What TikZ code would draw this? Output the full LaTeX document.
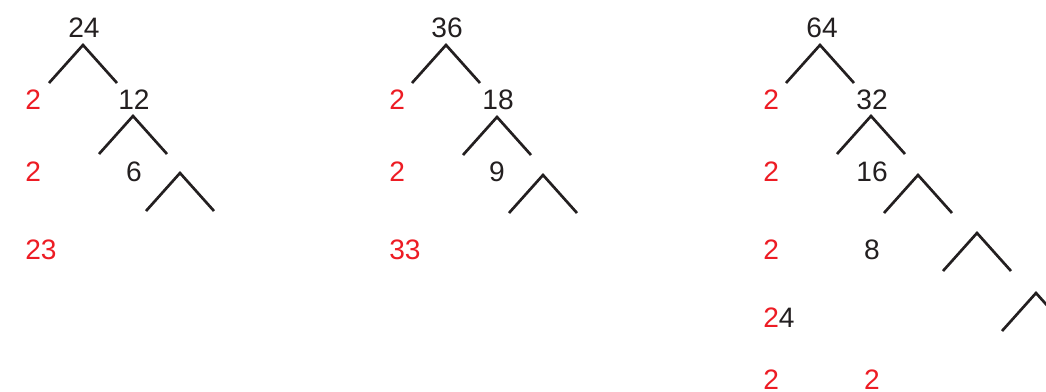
\documentclass[tikz,border=0pt]{standalone}
\usepackage{fontspec}
\setmainfont{Liberation Sans}
\definecolor{numred}{RGB}{237,28,36}
\definecolor{numblack}{RGB}{35,31,32}
\tikzset{
  num/.style={text=numblack,inner sep=0pt,font=\fontsize{20}{24}\selectfont},
  fac/.style={num,text=numred,anchor=west},
  branch/.style={draw=numblack,line width=1.9pt},
}
\begin{document}
\begin{tikzpicture}[x=0.025cm,y=-0.025cm]
\useasboundingbox (0,0) rectangle (1046,391);
\clip (0,0) rectangle (1046,391);

% first tree: 24
\node[num] (n24) at (84,28) {24};
\node[fac] (f24a) at (25,100) {2};
\node[num] (n12) at (134,100) {12};
\node[fac] (f24b) at (25,172) {2};
\node[num] (n6) at (134,172) {6};
\node[fac] (f24c) at (25,250) {23};

% second tree: 36
\node[num] (n36) at (447,28) {36};
\node[fac] (f36a) at (389,100) {2};
\node[num] (n18) at (498,100) {18};
\node[fac] (f36b) at (389,172) {2};
\node[num] (n9) at (497,172) {9};
\node[fac] (f36c) at (389,250) {33};

% third tree: 64
\node[num] (n64) at (822,28) {64};
\node[fac] (f64a) at (763,100) {2};
\node[num] (n32) at (872,100) {32};
\node[fac] (f64b) at (763,172) {2};
\node[num] (n16) at (872,172) {16};
\node[fac] (f64c) at (763,250) {2};
\node[num] (n8) at (872,250) {8};
\node[fac] (f64d) at (763,318) {2\textcolor{numblack}{4}};
\node[fac] (f64e) at (763,380) {2};
\node[num,text=numred] (f64f) at (872,380) {2};

% branch tops
\coordinate (b1) at (83,45);
\coordinate (b2) at (133,116);
\coordinate (b3) at (180,173);
\coordinate (c1) at (446,45);
\coordinate (c2) at (497,117);
\coordinate (c3) at (543,175);
\coordinate (d1) at (820,45);
\coordinate (d2) at (871,116);
\coordinate (d3) at (918,175);
\coordinate (d4) at (977,233);
\coordinate (d5) at (1036,293);

\foreach \w in {b1,b2,b3,c1,c2,c3,d1,d2,d3,d4,d5}
  \draw[branch] ([shift={(-34,38)}]\w) -- (\w) -- ([shift={(34,38)}]\w);
\end{tikzpicture}
\end{document}
